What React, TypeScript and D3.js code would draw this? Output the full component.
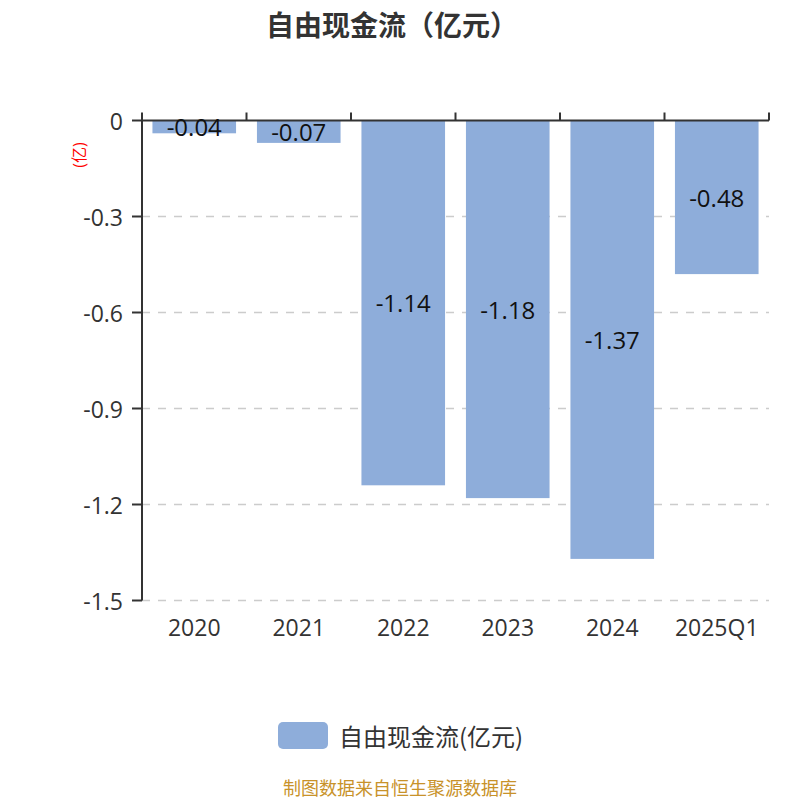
import * as d3 from 'd3';

const categories = ['2020', '2021', '2022', '2023', '2024', '2025Q1'];
const values = [-0.04, -0.07, -1.14, -1.18, -1.37, -0.48];
const yTicks = [0, -0.3, -0.6, -0.9, -1.2, -1.5];
const seriesName = '自由现金流(亿元)';
const title = '自由现金流（亿元）';
const unitLabel = '(亿)';
const source = '制图数据来自恒生聚源数据库';

const W = 800;
const H = 800;
const left = 142;
const right = 769;
const top = 120.5;
const bottom = 600.5;
const barColor = '#8eadda';
const font = '"Open Sans", "Noto Sans CJK SC", sans-serif';

export default function App() {
  const x = d3
    .scaleBand()
    .domain(categories)
    .range([left, right])
    .paddingInner(0.2)
    .paddingOuter(0.1);
  const y = d3.scaleLinear().domain([0, -1.5]).range([top, bottom]);
  const step = x.step();
  const edges = d3.range(categories.length + 1).map((i) => left + i * step);

  return (
    <svg
      width={W}
      height={H}
      style={{ position: 'absolute', left: 0, top: 0, fontFamily: font }}
    >
      <rect width={W} height={H} fill="#fff" />
      <text
        x={392}
        y={24}
        textAnchor="middle"
        dominantBaseline="central"
        fontSize={28}
        fontWeight="bold"
        fill="#333"
        fontFamily='"Noto Sans CJK SC", sans-serif'
      >
        {title}
      </text>

      {/* grid lines */}
      {yTicks.slice(1).map((t) => (
        <line
          key={t}
          x1={left}
          x2={right}
          y1={y(t)}
          y2={y(t)}
          stroke="#ccc"
          strokeWidth={1.5}
          strokeDasharray="8 8"
        />
      ))}

      {/* bars */}
      {categories.map((c, i) => (
        <rect
          key={c}
          x={x(c)}
          width={x.bandwidth()}
          y={y(0)}
          height={y(values[i]) - y(0)}
          fill={barColor}
        />
      ))}

      {/* y axis */}
      <line x1={left} x2={left} y1={top} y2={bottom} stroke="#333" strokeWidth={2} />
      {yTicks.map((t) => (
        <g key={t}>
          <line x1={left - 10} x2={left} y1={y(t)} y2={y(t)} stroke="#333" strokeWidth={2} />
          <text
            x={left - 19}
            y={y(t)}
            textAnchor="end"
            dominantBaseline="central"
            fontSize={23}
            fill="#333"
          >
            {String(t)}
          </text>
        </g>
      ))}

      {/* x axis at zero */}
      <line x1={left} x2={right} y1={top} y2={top} stroke="#333" strokeWidth={2} />
      {edges.map((e, i) => (
        <line key={i} x1={e} x2={e} y1={top} y2={top - 8} stroke="#333" strokeWidth={2} />
      ))}
      {categories.map((c) => (
        <text
          key={c}
          x={(x(c) ?? 0) + x.bandwidth() / 2}
          y={627}
          textAnchor="middle"
          dominantBaseline="central"
          fontSize={23}
          fill="#333"
        >
          {c}
        </text>
      ))}

      {/* value labels */}
      {categories.map((c, i) => (
        <text
          key={c}
          x={(x(c) ?? 0) + x.bandwidth() / 2}
          y={(y(0) + y(values[i])) / 2}
          textAnchor="middle"
          dominantBaseline="central"
          fontSize={24}
          fill="#111"
        >
          {values[i].toFixed(2)}
        </text>
      ))}

      <text
        transform={`translate(79,155) rotate(-90)`}
        textAnchor="middle"
        dominantBaseline="central"
        fontSize={16}
        fill="red"
      >
        {unitLabel}
      </text>

      {/* legend */}
      <rect x={278} y={722} width={50} height={27} rx={5} fill={barColor} />
      <text
        x={339}
        y={735.5}
        dominantBaseline="central"
        fontSize={24}
        fill="#333"
        fontFamily='"Noto Sans CJK SC", sans-serif'
      >
        {seriesName}
      </text>

      <text
        x={400}
        y={787}
        textAnchor="middle"
        dominantBaseline="central"
        fontSize={18}
        fill="#c8922a"
        fontFamily='"Noto Sans CJK SC", sans-serif'
      >
        {source}
      </text>
    </svg>
  );
}
